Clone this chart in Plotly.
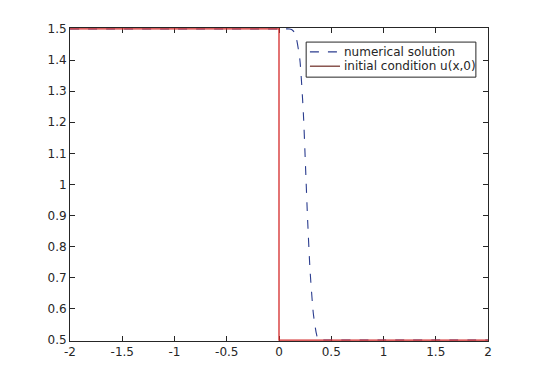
import plotly.graph_objects as go

# numerical solution
num_x = [-2.0, 0.0, 0.10, 0.12, 0.145, 0.169, 0.20, 0.233, 0.255, 0.274, 0.297, 0.328, 0.355, 0.376, 0.40, 1.0, 2.0]
num_y = [1.5, 1.5, 1.5, 1.498, 1.49, 1.465, 1.40, 1.23, 1.047, 0.886, 0.725, 0.587, 0.525, 0.5, 0.5, 0.5, 0.5]

# initial condition u(x,0)
ic_x = [-2.0, 0.0, 0.0, 2.0]
ic_y = [1.5, 1.5, 0.5, 0.5]

x_ticks = [-2, -1.5, -1, -0.5, 0, 0.5, 1, 1.5, 2]
x_labels = ["-2", "-1.5", "-1", "-0.5", "0", "0.5", "1", "1.5", "2"]
y_ticks = [0.5, 0.6, 0.7, 0.8, 0.9, 1.0, 1.1, 1.2, 1.3, 1.4, 1.5]
y_labels = ["0.5", "0.6", "0.7", "0.8", "0.9", "1", "1.1", "1.2", "1.3", "1.4", "1.5"]

legend_names = ["numerical solution", "initial condition u(x,0)"]
blue = "#2b3d8f"
red = "#d42a2a"
ink = "#262626"

fig = go.Figure()
fig.add_trace(go.Scatter(x=num_x, y=num_y, mode="lines", name=legend_names[0], showlegend=False,
                         line=dict(color=blue, width=1.1, dash="dash", shape="spline", smoothing=0.6)))
fig.add_trace(go.Scatter(x=ic_x, y=ic_y, mode="lines", name=legend_names[1], showlegend=False,
                         line=dict(color=red, width=1.3)))

axis_common = dict(showline=True, linecolor=ink, linewidth=1, mirror="ticks",
                   ticks="inside", ticklen=5, tickcolor=ink, showgrid=False, zeroline=False,
                   layer="below traces",
                   tickfont=dict(family="DejaVu Sans", size=12, color=ink))

# manual MATLAB-style legend (paper coordinates)
lx0, lx1, ly0, ly1 = 0.565, 0.971, 0.843, 0.955
rows_y = [0.924, 0.878]
seg_x0, seg_x1, text_x = 0.574, 0.646, 0.651
shapes = [dict(type="rect", xref="paper", yref="paper", x0=lx0, x1=lx1, y0=ly0, y1=ly1,
               line=dict(color=ink, width=1), fillcolor="white", layer="above")]
shapes.append(dict(type="line", xref="paper", yref="paper", x0=seg_x0, x1=seg_x1,
                   y0=rows_y[0], y1=rows_y[0], line=dict(color=blue, width=1.2, dash="dash"), layer="above"))
shapes.append(dict(type="line", xref="paper", yref="paper", x0=seg_x0, x1=seg_x1,
                   y0=rows_y[1], y1=rows_y[1], line=dict(color="#6b2a22", width=1.2), layer="above"))
annotations = [dict(xref="paper", yref="paper", x=text_x, y=yy, text=t, showarrow=False,
                    xanchor="left", yanchor="middle",
                    font=dict(family="DejaVu Sans", size=12, color=ink))
               for t, yy in zip(legend_names, rows_y)]

fig.update_layout(
    width=540, height=383,
    margin=dict(l=70, r=52, t=28, b=42),
    paper_bgcolor="white", plot_bgcolor="white",
    xaxis=dict(range=[-2, 2], tickvals=x_ticks, ticktext=x_labels, **axis_common),
    yaxis=dict(range=[0.497, 1.503], tickvals=y_ticks, ticktext=y_labels, **axis_common),
    shapes=shapes, annotations=annotations,
    showlegend=False,
)
fig.write_html("out.html")
